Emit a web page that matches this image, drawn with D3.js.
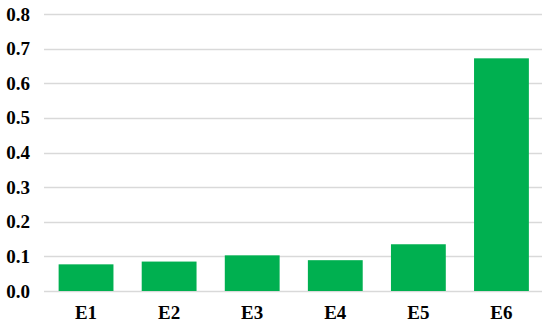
<!DOCTYPE html>
<html lang="en">
    <head>
        <meta charset="utf-8">
        <title>Bar chart E1-E6</title>
        <script src="https://d3js.org/d3.v7.min.js"></script>
        <style type="text/css">
            body { margin: 0; background: #fff; }
        </style>
    </head>
    <body>
        <svg id="bar_chart" width="550" height="324"></svg>
        <script>
            //Chart data
            var categories = ['E1', 'E2', 'E3', 'E4', 'E5', 'E6'];
            var values = [0.077, 0.085, 0.103, 0.089, 0.135, 0.672];
            var yTicks = [0, 0.1, 0.2, 0.3, 0.4, 0.5, 0.6, 0.7, 0.8];

            var svg = d3.select('#bar_chart');

            var xScale = d3.scaleBand()
                           .domain(categories)
                           .range([44.5, 543])
                           .paddingInner(0.34)
                           .paddingOuter(0.17);

            var yScale = d3.scaleLinear()
                           .domain([0, 0.8])
                           .range([291, 14]);

            //Gridlines
            svg.append('g')
               .selectAll('line')
               .data(yTicks)
               .enter()
               .append('line')
               .attr('x1', 44)
               .attr('x2', 542)
               .attr('y1', function(d) { return Math.round(yScale(d)) + 0.5; })
               .attr('y2', function(d) { return Math.round(yScale(d)) + 0.5; })
               .attr('stroke', '#d9d9d9')
               .attr('stroke-width', 1.3);

            //Bars
            svg.append('g')
               .selectAll('rect')
               .data(values)
               .enter()
               .append('rect')
               .attr('x', function(d, i) { return xScale(categories[i]); })
               .attr('width', xScale.bandwidth())
               .attr('y', function(d) { return yScale(d); })
               .attr('height', function(d) { return yScale(0) - yScale(d); })
               .attr('fill', '#00b050');

            //Y axis
            var yAxis = d3.axisLeft(yScale)
                          .tickValues(yTicks)
                          .tickFormat(d3.format('.1f'))
                          .tickSize(0)
                          .tickPadding(0);
            var yG = svg.append('g')
                        .attr('transform', 'translate(30,0)')
                        .call(yAxis)
                        .attr('font-family', 'Liberation Serif')
                        .attr('font-weight', 'bold')
                        .attr('font-size', 19);
            yG.select('.domain').remove();
            yG.selectAll('text')
              .style('font-family', 'Liberation Serif')
              .style('font-weight', 'bold')
              .style('font-size', '19px');

            //X axis
            var xAxis = d3.axisBottom(xScale)
                          .tickSize(0)
                          .tickPadding(0);
            var xG = svg.append('g')
                        .attr('transform', 'translate(0,305)')
                        .call(xAxis)
                        .attr('font-family', 'Liberation Serif')
                        .attr('font-weight', 'bold')
                        .attr('font-size', 19);
            xG.select('.domain').remove();
            xG.selectAll('text')
              .style('font-family', 'Liberation Serif')
              .style('font-weight', 'bold')
              .style('font-size', '19px');
        </script>
    </body>
</html>
